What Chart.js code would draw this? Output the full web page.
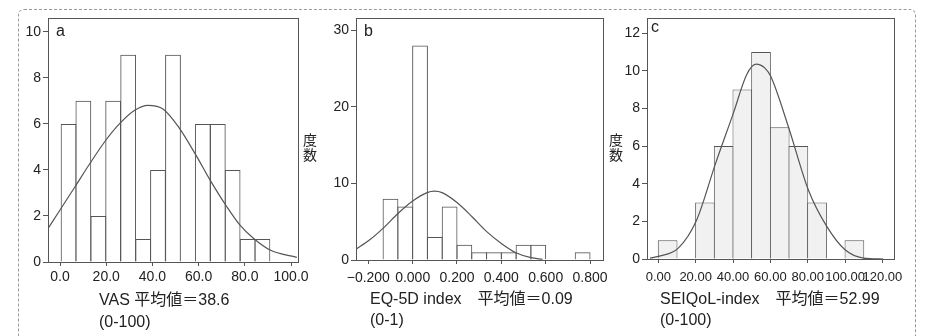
<!DOCTYPE html>
<html>
<head>
<meta charset="utf-8">
<script src="https://cdn.jsdelivr.net/npm/chart.js@4"></script>
<style>
  body { margin: 0; background: #fff; width: 926px; height: 336px; overflow: hidden; position: relative;
         font-family: "Liberation Sans", "Noto Sans CJK JP", sans-serif; color: #222; }
  .frame { position: absolute; left: 18px; top: 9px; width: 898px; height: 345px; box-sizing: border-box;
           border: 1px dashed #999; border-radius: 6px; }
  canvas { position: absolute; top: 0; }
  .t { position: absolute; line-height: 1; white-space: nowrap; font-size: 16px; }
  .letter { font-size: 16px; }
  .ylab { font-family: "Noto Sans CJK JP", sans-serif; font-size: 14px; line-height: 15px; width: 14px; text-align: center; }
</style>
</head>
<body>
<div class="frame"></div>
<canvas id="chartA" width="320" height="336" style="left:0px"></canvas>
<canvas id="chartB" width="310" height="336" style="left:310px"></canvas>
<canvas id="chartC" width="306" height="336" style="left:620px"></canvas>

<div class="t letter" style="left:56px;top:23px">a</div>
<div class="t letter" style="left:364px;top:23px">b</div>
<div class="t letter" style="left:651px;top:19px">c</div>

<div class="t ylab" style="left:303px;top:132px">度<br>数</div>
<div class="t ylab" style="left:609px;top:132px">度<br>数</div>

<div class="t" style="left:99px;top:292px">VAS 平均値＝38.6</div>
<div class="t" style="left:99px;top:314px">(0-100)</div>
<div class="t" style="left:370px;top:291px">EQ-5D index　平均値＝0.09</div>
<div class="t" style="left:370px;top:312px">(0-1)</div>
<div class="t" style="left:660px;top:291px">SEIQoL-index　平均値＝52.99</div>
<div class="t" style="left:660px;top:312px">(0-100)</div>

<script>
// a: VAS
const vasBins = [3.7, 10.1, 16.6, 23.0, 29.5, 36.0, 42.4, 48.9, 55.4, 61.8, 68.3, 74.7, 81.2, 87.6];
const vasCounts = [6, 7, 2, 7, 9, 1, 4, 9, 0, 6, 6, 4, 1, 1];
const vasCurveX = [-5.1, 0, 6.5, 13.0, 19.9, 26.0, 32.5, 38.0, 44.7, 51.2, 59.2, 64.9, 72.2, 77.9, 83.7, 90.9, 102.5];
const vasCurveY = [1.47, 2.26, 3.27, 4.29, 5.3, 6.03, 6.6, 6.8, 6.64, 5.88, 4.58, 3.57, 2.4, 1.6, 1.03, 0.52, 0.2];
const vasXTicks = [0, 20, 40, 60, 80, 100];
const vasXLabels = ['0.0', '20.0', '40.0', '60.0', '80.0', '100.0'];
const vasYTicks = [0, 2, 4, 6, 8, 10];

// b: EQ-5D index
const eqBins = [-0.1, -0.0333, 0.0333, 0.1, 0.1667, 0.2333, 0.3, 0.3667, 0.4333, 0.5, 0.5667, 0.6333, 0.7, 0.7667];
const eqCounts = [8, 7, 28, 3, 7, 2, 1, 1, 1, 2, 2, 0, 0, 1];
const eqCurveX = [-0.256, -0.195, -0.135, -0.065, 0, 0.065, 0.098, 0.133, 0.2, 0.268, 0.334, 0.403, 0.466, 0.534, 0.586];
const eqCurveY = [1.4, 2.6, 4.1, 6.1, 7.7, 8.8, 9.0, 8.8, 7.5, 5.65, 3.7, 2.1, 0.95, 0.3, 0.1];
const eqXTicks = [-0.2, 0, 0.2, 0.4, 0.6, 0.8];
const eqXLabels = ['−0.200', '0.000', '0.200', '0.400', '0.600', '0.800'];
const eqYTicks = [0, 10, 20, 30];

// c: SEIQoL-index
const seiBins = [5, 15, 25, 35, 45, 55, 65, 75, 85, 95, 105];
const seiCounts = [1, 0, 3, 6, 9, 11, 7, 6, 3, 0, 1];
const seiCurveX = [-4.4, 0, 10.7, 20.6, 30.4, 40.2, 47.3, 52.3, 57.1, 60.2, 69.6, 80.3, 90.2, 100, 109.8, 120.5];
const seiCurveY = [0.05, 0.14, 0.58, 2.09, 5.0, 7.75, 9.79, 10.35, 10.14, 9.7, 7.04, 3.68, 1.73, 0.49, 0.05, 0];
const seiXTicks = [0, 20, 40, 60, 80, 100, 120];
const seiXLabels = ['0.00', '20.00', '40.00', '60.00', '80.00', '100.00', '120.00'];
const seiYTicks = [0, 2, 4, 6, 8, 10, 12];

const ink = '#555';

const boxPlugin = {
  id: 'box',
  afterDraw(chart) {
    const { ctx, chartArea: a } = chart;
    ctx.save();
    ctx.strokeStyle = ink;
    ctx.lineWidth = 1;
    ctx.strokeRect(Math.round(a.left) + 0.5, Math.round(a.top) + 0.5,
      Math.round(a.right - a.left), Math.round(a.bottom - a.top));
    ctx.restore();
  }
};

function makeHist(id, o) {
  const pairs = (xs, ys) => xs.map((x, i) => ({ x, y: ys[i] }));
  return new Chart(document.getElementById(id), {
    type: 'bar',
    data: {
      datasets: [
        {
          type: 'line',
          data: pairs(o.curveX, o.curveY),
          borderColor: ink,
          borderWidth: 1.2,
          pointRadius: 0,
          fill: false,
          cubicInterpolationMode: 'monotone',
          order: 0
        },
        {
          data: pairs(o.bins, o.counts),
          backgroundColor: o.fill,
          borderColor: ink,
          borderWidth: 1,
          inflateAmount: 0,
          // a touch over 1 so neighbouring bars share one edge line
          barPercentage: o.barPct,
          categoryPercentage: 1,
          order: 1
        }
      ]
    },
    options: {
      responsive: false,
      animation: false,
      events: [],
      layout: { padding: { left: 0, right: o.padRight, top: 18, bottom: 0 } },
      plugins: { legend: { display: false }, tooltip: { enabled: false } },
      scales: {
        x: {
          type: 'linear',
          min: o.xMin, max: o.xMax,
          offset: false,
          afterBuildTicks: s => { s.ticks = o.xTicks.map(v => ({ value: v })); },
          afterFit: s => { s.height = o.xHeight; },
          border: { display: false },
          grid: { display: true, offset: false, drawOnChartArea: false, drawTicks: true, tickLength: 4, color: ink },
          ticks: {
            autoSkip: false, maxRotation: 0, minRotation: 0,
            padding: o.xPad, color: '#222',
            font: o.xFont,
            callback: (v, i) => o.xLabels[i]
          }
        },
        y: {
          min: 0, max: o.yMax,
          afterBuildTicks: s => { s.ticks = o.yTicks.map(v => ({ value: v })); },
          afterFit: s => { s.width = o.yWidth; },
          border: { display: false },
          grid: { display: true, drawOnChartArea: false, drawTicks: true, tickLength: 5, color: ink },
          ticks: { padding: 2, color: '#222', font: { family: 'Liberation Sans', size: 14 } }
        }
      }
    },
    plugins: [boxPlugin]
  });
}

makeHist('chartA', {
  bins: vasBins, counts: vasCounts, curveX: vasCurveX, curveY: vasCurveY,
  xTicks: vasXTicks, xLabels: vasXLabels, yTicks: vasYTicks,
  xMin: -5.2, xMax: 103, yMax: 10.6,
  yWidth: 48, padRight: 22, xHeight: 74, xPad: 3,
  xFont: { family: 'Liberation Sans', size: 14 },
  fill: 'rgba(255,255,255,0)', barPct: 1.068
});

makeHist('chartB', {
  bins: eqBins, counts: eqCounts, curveX: eqCurveX, curveY: eqCurveY,
  xTicks: eqXTicks, xLabels: eqXLabels, yTicks: eqYTicks,
  xMin: -0.2555, xMax: 0.8586, yMax: 31.6,
  yWidth: 46, padRight: 17, xHeight: 76, xPad: 6,
  xFont: { family: 'Liberation Sans', size: 14 },
  fill: 'rgba(255,255,255,0)', barPct: 1.068
});

makeHist('chartC', {
  bins: seiBins, counts: seiCounts, curveX: seiCurveX, curveY: seiCurveY,
  xTicks: seiXTicks, xLabels: seiXLabels, yTicks: seiYTicks,
  xMin: -6.05, xMax: 126.2, yMax: 12.8,
  yWidth: 27, padRight: 32, xHeight: 77, xPad: 7,
  xFont: { family: "'Liberation Sans Narrow', 'Liberation Sans'", size: 13 },
  fill: '#f1f1f1', barPct: 1.054
});
</script>
</body>
</html>
